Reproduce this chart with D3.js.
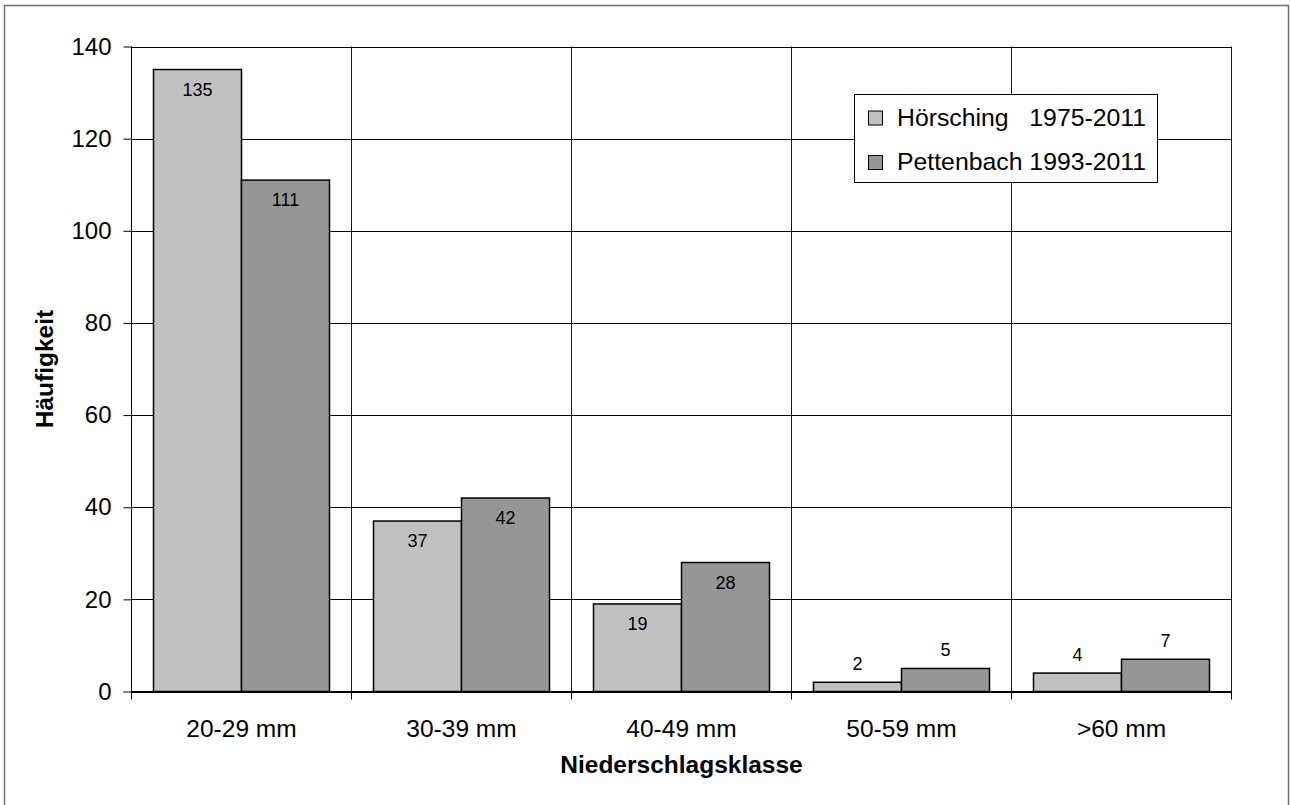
<!DOCTYPE html>
<html>
<head>
<meta charset="utf-8">
<script src="https://cdn.jsdelivr.net/npm/d3@7"></script>
<style>
  html, body { margin: 0; padding: 0; background: #fff; }
  svg { display: block; font-family: "Liberation Sans", Arial, sans-serif; }
  .legend-text { white-space: pre; }
</style>
</head>
<body>
<svg id="chart" width="1290" height="805"></svg>
<script>
// Precipitation classes and event counts per station
const categories = ["20-29 mm", "30-39 mm", "40-49 mm", "50-59 mm", ">60 mm"];
const seriesNames = ["Hörsching   1975-2011", "Pettenbach 1993-2011"];
const hoersching = [135, 37, 19, 2, 4];
const pettenbach = [111, 42, 28, 5, 7];
const yTicks = [0, 20, 40, 60, 80, 100, 120, 140];
const seriesColors = ["#c0c0c0", "#969696"];

const series = [hoersching, pettenbach];
const FONT = "Liberation Sans, Arial, sans-serif";

const svg = d3.select("#chart");

// outer frame
svg.append("rect")
  .attr("x", 4.5).attr("y", 5.5)
  .attr("width", 1284).attr("height", 805)
  .attr("fill", "#fff")
  .attr("stroke", "#6e6e6e").attr("stroke-width", 1.5);

const plotL = 131.5, plotR = 1231.5, plotT = 46.5, plotB = 691.5;

const x = d3.scaleBand().domain(categories).range([plotL, plotR]).paddingInner(0).paddingOuter(0);
const xs = d3.scaleBand().domain(d3.range(series.length)).range([0, x.bandwidth()]).paddingInner(0).paddingOuter(0.25);
const y = d3.scaleLinear().domain([0, 140]).range([plotB, plotT]);

// horizontal gridlines
svg.append("g").selectAll("line").data(yTicks).join("line")
  .attr("x1", plotL).attr("x2", plotR)
  .attr("y1", d => Math.round(y(d)) + 0.5).attr("y2", d => Math.round(y(d)) + 0.5)
  .attr("stroke", "#000").attr("stroke-width", 1);

// vertical gridlines on category boundaries
const bounds = categories.map(c => x(c)).concat([plotR]);
svg.append("g").selectAll("line").data(bounds.slice(1)).join("line")
  .attr("x1", d => d).attr("x2", d => d)
  .attr("y1", plotT).attr("y2", plotB)
  .attr("stroke", "#1a1a1a").attr("stroke-width", 1);

// bars
series.forEach((vals, si) => {
  svg.append("g").selectAll("rect").data(vals).join("rect")
    .attr("x", (d, i) => x(categories[i]) + xs(si))
    .attr("y", d => y(d))
    .attr("width", xs.bandwidth())
    .attr("height", d => y(0) - y(d))
    .attr("fill", seriesColors[si])
    .attr("stroke", "#000").attr("stroke-width", 1.5);
});

// value labels
series.forEach((vals, si) => {
  svg.append("g").selectAll("text").data(vals).join("text")
    .attr("x", (d, i) => x(categories[i]) + xs(si) + xs.bandwidth() / 2)
    .attr("y", d => d >= 10 ? y(d) + 26 : y(d) - 12)
    .attr("text-anchor", "middle")
    .attr("font-family", FONT)
    .attr("font-size", 18)
    .attr("fill", "#000")
    .text(d => d);
});

// y axis
const yAxis = d3.axisLeft(y).tickValues(yTicks).tickSize(8).tickPadding(12);
const yg = svg.append("g").attr("transform", `translate(${plotL},0)`).call(yAxis);
yg.select(".domain").attr("stroke", "#000").attr("d", `M0,${plotT}V${plotB}`);
yg.selectAll(".tick line").attr("stroke", "#000");
yg.selectAll(".tick text").attr("font-size", 24).attr("font-family", FONT).attr("fill", "#000");

// x axis
const xAxis = d3.axisBottom(x).tickSize(0).tickPadding(0);
const xg = svg.append("g").attr("transform", `translate(0,${plotB})`).call(xAxis);
xg.select(".domain").attr("stroke", "#000").attr("d", `M${plotL},0H${plotR}`);
xg.selectAll(".tick text")
  .attr("font-size", 24.5).attr("font-family", FONT).attr("fill", "#000")
  .attr("dy", null).attr("y", 45);
svg.append("g").selectAll("line").data(bounds).join("line")
  .attr("x1", d => d).attr("x2", d => d)
  .attr("y1", plotB).attr("y2", plotB + 8)
  .attr("stroke", "#000").attr("stroke-width", 1);

// axis titles
svg.append("text")
  .attr("x", (plotL + plotR) / 2).attr("y", 773)
  .attr("text-anchor", "middle").attr("font-weight", "bold").attr("font-size", 24.5)
  .attr("font-family", FONT)
  .text("Niederschlagsklasse");
svg.append("text")
  .attr("transform", `translate(53,${(plotT + plotB) / 2}) rotate(-90)`)
  .attr("text-anchor", "middle").attr("font-weight", "bold").attr("font-size", 24.5)
  .attr("font-family", FONT)
  .text("Häufigkeit");

// legend
const lg = svg.append("g");
lg.append("rect")
  .attr("x", 854.5).attr("y", 94.5).attr("width", 303).attr("height", 88)
  .attr("fill", "#fff").attr("stroke", "#000").attr("stroke-width", 1);
const rowY = [125.5, 170];
seriesNames.forEach((name, i) => {
  lg.append("rect")
    .attr("x", 868.5).attr("y", rowY[i] - 14.5).attr("width", 14).attr("height", 14)
    .attr("fill", seriesColors[i]).attr("stroke", "#000").attr("stroke-width", 1);
  lg.append("text")
    .attr("class", "legend-text")
    .attr("x", 897).attr("y", rowY[i])
    .attr("font-family", FONT)
    .attr("font-size", 24.8)
    .text(name);
});
</script>
</body>
</html>
